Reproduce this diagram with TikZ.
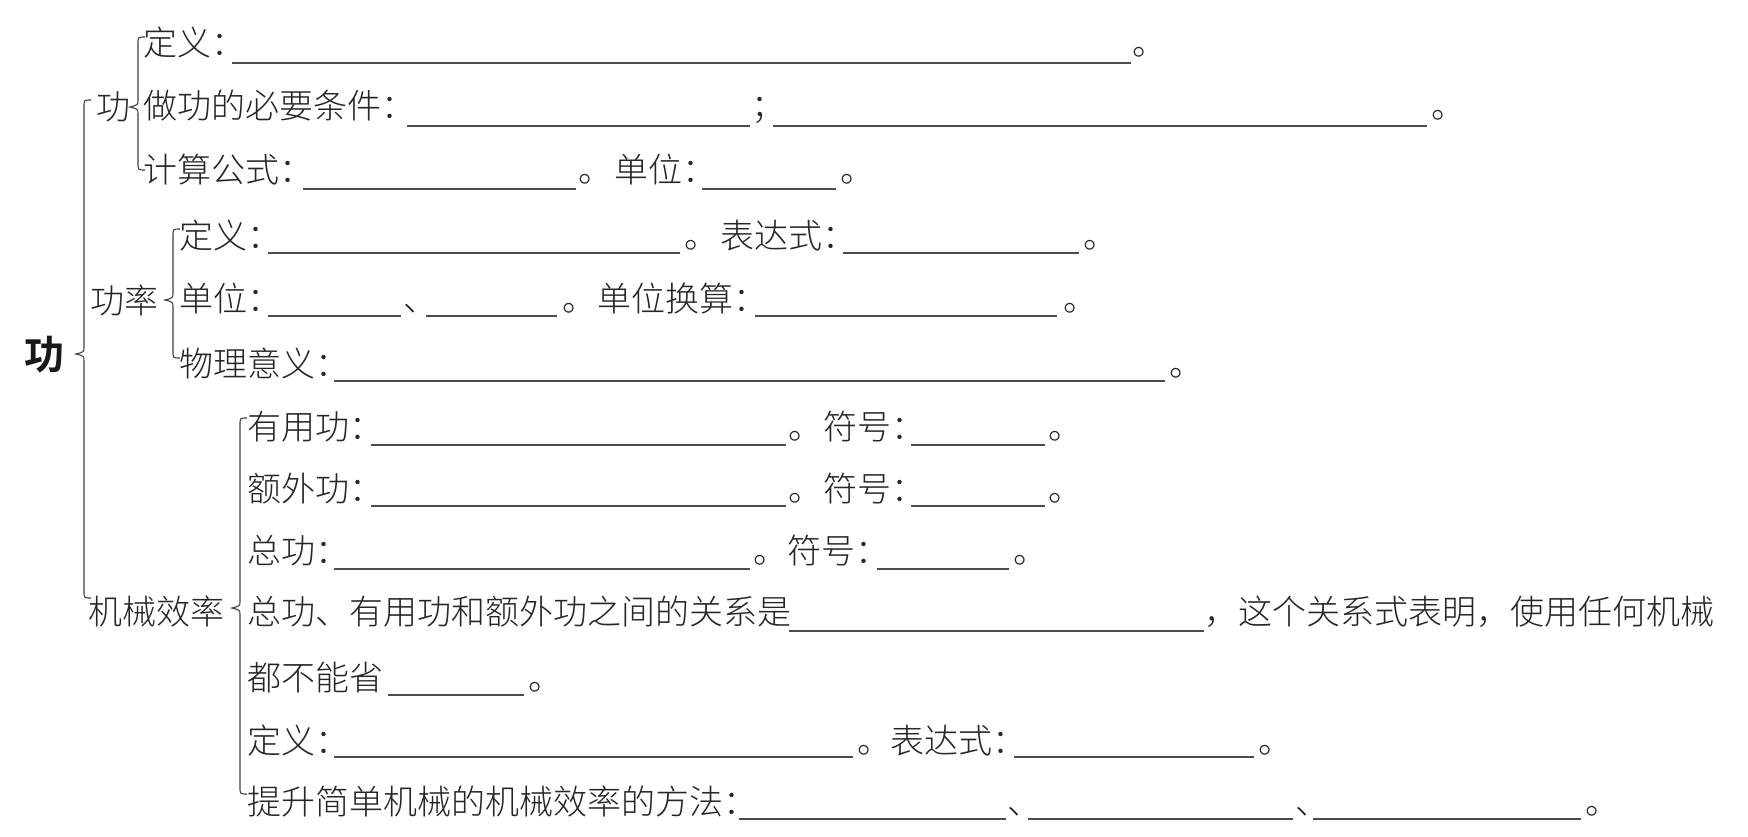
\documentclass[tikz,border=0pt]{standalone}
\usepackage{fontspec}
\IfFontExistsTF{Noto Sans CJK SC Light}
  {\newfontfamily\cjk[BoldFont={Noto Sans CJK SC Bold}]{Noto Sans CJK SC Light}}
  {\newfontfamily\cjk{Noto Sans CJK SC}}
\newcommand\brc[4]{%
  \draw[br] (#1+7,#2) .. controls (#1,#2) .. (#1,#2+7) -- (#1,#3-7)
    .. controls (#1,#3-2) .. (#1-8,#3) .. controls (#1,#3+2) .. (#1,#3+7)
    -- (#1,#4-7) .. controls (#1,#4) .. (#1+7,#4);}
\begin{document}
\begin{tikzpicture}[x=1pt,y=-1pt,
  txt/.style={anchor=base west,inner sep=0pt,font=\cjk\fontsize{34}{34}\selectfont,text=black!85},
  big/.style={anchor=base west,inner sep=0pt,font=\cjk\bfseries\fontsize{40}{40}\selectfont,text=black!90},
  blank/.style={line width=1.3pt,draw=black!70},
  br/.style={line width=1.1pt,draw=black!75}]
\useasboundingbox[fill=white] (0,0) rectangle (1748,837);

% labels
\node[big] (root) at (24,369) {功};
\node[txt] (lw) at (96,120) {功};
\node[txt] (lp) at (90,313) {功率};
\node[txt] (le) at (88,624) {机械效率};

% braces
\brc{84}{100}{354}{598}
\brc{138}{37}{107}{170}
\brc{173}{229}{300}{358}
\brc{240}{418}{608}{794}

% row 1
\node[txt] (r1a) at (143,56) {定义：};
\draw[blank] (232,63) -- (1131,63);
\node[txt] (r1b) at (1132,56) {。};
% row 2
\node[txt] (r2a) at (143,119) {做功的必要条件：};
\draw[blank] (407,126) -- (750,126);
\node[txt] (r2b) at (751,119) {；};
\draw[blank] (773,126) -- (1427,126);
\node[txt] (r2c) at (1431,119) {。};
% row 3
\node[txt] (r3a) at (143,183) {计算公式：};
\draw[blank] (303,189) -- (576,189);
\node[txt] (r3b) at (578,183) {。};
\node[txt] (r3c) at (614,183) {单位：};
\draw[blank] (702,189) -- (836,189);
\node[txt] (r3d) at (840,183) {。};
% row 4
\node[txt] (r4a) at (179,248) {定义：};
\draw[blank] (268,253) -- (680,253);
\node[txt] (r4b) at (684,248) {。};
\node[txt] (r4c) at (720,248) {表达式：};
\draw[blank] (843,253) -- (1079,253);
\node[txt] (r4d) at (1083,248) {。};
% row 5
\node[txt] (r5a) at (179,311) {单位：};
\draw[blank] (268,316) -- (401,316);
\node[txt] (r5b) at (403,311) {、};
\draw[blank] (426,316) -- (557,316);
\node[txt] (r5c) at (562,311) {。};
\node[txt] (r5d) at (597,311) {单位换算：};
\draw[blank] (755,316) -- (1057,316);
\node[txt] (r5e) at (1063,311) {。};
% row 6
\node[txt] (r6a) at (179,376) {物理意义：};
\draw[blank] (334,381) -- (1165,381);
\node[txt] (r6b) at (1169,376) {。};
% row 7
\node[txt] (r7a) at (247,439) {有用功：};
\draw[blank] (371,445) -- (786,445);
\node[txt] (r7b) at (788,439) {。};
\node[txt] (r7c) at (823,439) {符号：};
\draw[blank] (911,445) -- (1045,445);
\node[txt] (r7d) at (1048,439) {。};
% row 8
\node[txt] (r8a) at (247,501) {额外功：};
\draw[blank] (371,506) -- (786,506);
\node[txt] (r8b) at (788,501) {。};
\node[txt] (r8c) at (823,501) {符号：};
\draw[blank] (911,506) -- (1045,506);
\node[txt] (r8d) at (1048,501) {。};
% row 9
\node[txt] (r9a) at (247,563) {总功：};
\draw[blank] (334,569) -- (750,569);
\node[txt] (r9b) at (753,563) {。};
\node[txt] (r9c) at (787,563) {符号：};
\draw[blank] (877,569) -- (1009,569);
\node[txt] (r9d) at (1013,563) {。};
% row 10
\node[txt] (r10a) at (247,624) {总功、有用功和额外功之间的关系是};
\draw[blank] (789,631) -- (1204,631);
\node[txt] (r10b) at (1204,624) {，这个关系式表明，使用任何机械};
% row 11
\node[txt] (r11a) at (247,690) {都不能省};
\draw[blank] (388,695) -- (524,695);
\node[txt] (r11b) at (528,690) {。};
% row 12
\node[txt] (r12a) at (247,753) {定义：};
\draw[blank] (334,757) -- (853,757);
\node[txt] (r12b) at (857,753) {。};
\node[txt] (r12c) at (890,753) {表达式：};
\draw[blank] (1014,757) -- (1254,757);
\node[txt] (r12d) at (1258,753) {。};
% row 13
\node[txt] (r13a) at (247,814) {提升简单机械的机械效率的方法：};
\draw[blank] (739,819) -- (1006,819);
\node[txt] (r13b) at (1007,814) {、};
\draw[blank] (1028,819) -- (1293,819);
\node[txt] (r13c) at (1295,814) {、};
\draw[blank] (1313,819) -- (1581,819);
\node[txt] (r13d) at (1585,814) {。};
\end{tikzpicture}
\end{document}
